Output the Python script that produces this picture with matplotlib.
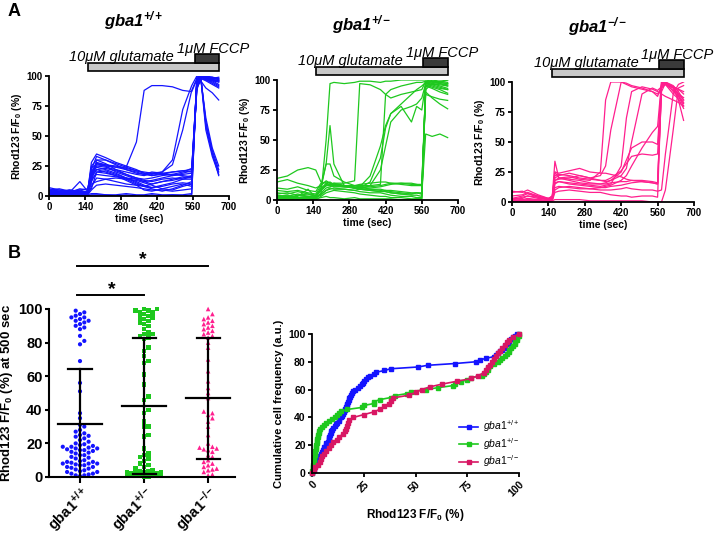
import numpy as np
import matplotlib
matplotlib.use('Agg')
import matplotlib.pyplot as plt

plt.rcParams['font.family'] = ['Liberation Sans', 'DejaVu Sans']
plt.rcParams['mathtext.fontset'] = 'custom'
plt.rcParams['mathtext.rm'] = 'Liberation Sans'
plt.rcParams['mathtext.it'] = 'Liberation Sans:italic'
plt.rcParams['mathtext.bf'] = 'Liberation Sans:bold'
try:
    plt.rcParams['mathtext.bfit'] = 'Liberation Sans:italic:bold'
except KeyError:
    pass

# ---------------- DATA ----------------
# Panel A: Rhod123 traces (time in s, F/F0 %)
TW = [0, 40, 80, 120, 150, 165, 185, 220, 260, 300, 340, 370, 400, 440, 480, 520, 555, 575, 590, 610, 635, 660]
wt_traces = [
    [2, 1, 3, 2, 3, 18, 27, 26, 24, 24, 45, 88, 92, 92, 91, 88, 87, 97, 100, 99, 98, 98],
    [1, 2, 1, 3, 2, 12, 30, 30, 27, 24, 21, 19, 18, 20, 26, 55, 88, 98, 100, 97, 96, 95],
    [3, 2, 4, 3, 1, 16, 25, 24, 22, 20, 18, 17, 19, 20, 30, 72, 92, 100, 99, 98, 97, 96],
    [2, 3, 2, 5, 3, 28, 35, 32, 28, 25, 22, 19, 17, 18, 20, 21, 22, 95, 100, 60, 38, 22],
    [4, 3, 5, 3, 2, 22, 33, 30, 26, 22, 19, 18, 20, 19, 17, 18, 19, 92, 99, 55, 33, 18],
    [1, 2, 1, 2, 1, 20, 28, 26, 25, 23, 21, 20, 19, 18, 18, 17, 16, 90, 98, 65, 40, 25],
    [3, 4, 3, 12, 4, 25, 30, 27, 22, 18, 15, 14, 15, 17, 18, 20, 23, 88, 100, 58, 35, 20],
    [5, 3, 4, 3, 3, 15, 22, 23, 21, 18, 15, 13, 12, 14, 15, 14, 14, 94, 99, 62, 36, 17],
    [2, 1, 2, 1, 2, 14, 18, 17, 16, 15, 14, 12, 10, 12, 13, 15, 17, 90, 96, 90, 86, 80],
    [6, 4, 5, 4, 3, 12, 20, 19, 17, 14, 10, 8, 10, 12, 14, 16, 15, 95, 100, 99, 97, 95],
    [0, 1, 0, 1, 0, 8, 15, 14, 12, 10, 9, 8, 7, 8, 10, 11, 10, 98, 99, 100, 98, 97],
    [1, 0, 1, 0, 1, 2, 2, 1, 1, 2, 1, 1, 2, 1, 1, 1, 2, 96, 100, 99, 99, 98],
    [0, 0, 1, 0, 0, 1, 1, 1, 0, 1, 0, 0, 1, 0, 1, 0, 1, 99, 100, 98, 97, 96],
    [4, 5, 3, 6, 5, 18, 24, 22, 19, 15, 12, 9, 7, 9, 11, 14, 16, 97, 98, 97, 95, 92],
    [2, 3, 4, 2, 3, 10, 12, 14, 15, 14, 13, 11, 9, 6, 5, 8, 10, 93, 99, 98, 96, 93],
    [3, 2, 2, 4, 2, 24, 26, 25, 24, 22, 20, 18, 17, 19, 20, 21, 20, 96, 100, 100, 99, 97],
    [7, 5, 4, 3, 4, 6, 20, 21, 18, 15, 11, 8, 6, 4, 6, 9, 12, 91, 98, 96, 93, 90],
    [1, 2, 3, 2, 3, 17, 22, 20, 17, 13, 9, 5, 4, 6, 8, 10, 8, 97, 100, 99, 98, 99],
    [2, 1, 2, 3, 1, 5, 9, 10, 9, 8, 7, 6, 5, 5, 4, 5, 6, 95, 99, 98, 97, 96],
    [5, 6, 4, 5, 6, 19, 27, 25, 20, 17, 14, 12, 13, 15, 17, 19, 21, 94, 100, 97, 94, 91],
]

TG = [0, 40, 80, 120, 150, 170, 190, 205, 220, 260, 300, 320, 360, 400, 420, 440, 480, 520, 540, 560, 575, 600, 630, 660]
het_traces = [
    [18, 20, 25, 27, 25, 15, 14, 13, 12, 12, 12, 11, 11, 12, 13, 14, 14, 14, 13, 13, 95, 97, 96, 95],
    [15, 17, 14, 12, 10, 12, 30, 30, 20, 15, 12, 13, 14, 15, 15, 14, 13, 12, 12, 12, 88, 86, 84, 83],
    [5, 6, 4, 5, 3, 10, 30, 62, 30, 12, 10, 9, 8, 7, 8, 7, 6, 5, 6, 5, 97, 99, 98, 100],
    [3, 2, 4, 3, 2, 5, 50, 97, 98, 97, 98, 99, 99, 98, 99, 99, 100, 100, 100, 100, 100, 99, 98, 97],
    [2, 3, 1, 2, 3, 8, 12, 13, 14, 14, 16, 97, 96, 92, 88, 85, 88, 90, 91, 92, 99, 97, 95, 93],
    [1, 2, 1, 2, 1, 6, 10, 11, 12, 11, 10, 11, 20, 45, 62, 72, 80, 88, 92, 95, 98, 96, 94, 92],
    [2, 1, 2, 1, 2, 4, 8, 9, 10, 9, 8, 9, 12, 25, 45, 65, 75, 78, 80, 85, 97, 99, 98, 97],
    [4, 3, 5, 3, 4, 8, 12, 12, 13, 12, 10, 10, 15, 35, 60, 72, 78, 65, 78, 75, 97, 95, 93, 92],
    [3, 4, 2, 3, 2, 10, 13, 12, 11, 11, 12, 12, 12, 13, 88, 92, 95, 97, 98, 98, 99, 98, 97, 96],
    [1, 0, 1, 0, 1, 2, 3, 2, 2, 1, 2, 1, 1, 1, 1, 1, 0, 0, 1, 1, 97, 100, 99, 98],
    [6, 5, 7, 5, 4, 9, 12, 13, 14, 12, 10, 9, 8, 7, 7, 6, 5, 5, 6, 5, 55, 53, 55, 52],
    [2, 3, 2, 3, 2, 9, 14, 15, 13, 12, 11, 10, 10, 11, 12, 13, 14, 13, 13, 12, 90, 85, 80, 76],
    [8, 7, 8, 6, 5, 12, 16, 14, 13, 12, 12, 11, 9, 8, 7, 6, 5, 4, 4, 3, 95, 93, 90, 88],
    [0, 1, 2, 1, 0, 3, 6, 7, 8, 7, 6, 5, 4, 3, 3, 2, 2, 1, 1, 1, 98, 96, 97, 95],
    [3, 2, 3, 9, 2, 5, 8, 10, 9, 9, 8, 7, 6, 6, 5, 4, 3, 3, 2, 2, 92, 97, 99, 100],
    [10, 9, 11, 8, 7, 14, 15, 14, 12, 11, 10, 9, 9, 9, 8, 8, 7, 6, 6, 6, 96, 94, 92, 89],
]

TK = [0, 40, 60, 100, 140, 155, 165, 180, 220, 260, 300, 340, 360, 380, 420, 440, 460, 500, 540, 560, 575, 590, 620, 640, 660]
ko_traces = [
    [2, 3, 5, 4, 2, 5, 25, 20, 21, 19, 18, 25, 85, 100, 100, 98, 96, 94, 92, 90, 95, 100, 92, 88, 82],
    [1, 2, 3, 2, 1, 3, 18, 19, 20, 22, 20, 22, 30, 60, 100, 99, 97, 95, 92, 88, 97, 99, 95, 90, 85],
    [0, 1, 2, 1, 0, 2, 15, 17, 16, 15, 14, 13, 14, 15, 30, 70, 92, 96, 94, 92, 90, 88, 85, 83, 80],
    [3, 2, 1, 2, 3, 4, 20, 22, 24, 22, 20, 18, 17, 18, 22, 28, 50, 90, 95, 93, 96, 98, 90, 86, 78],
    [1, 1, 2, 1, 1, 2, 10, 12, 13, 12, 11, 12, 13, 14, 18, 22, 30, 45, 58, 63, 100, 98, 96, 94, 90],
    [2, 4, 5, 3, 2, 3, 18, 20, 18, 16, 15, 15, 16, 18, 25, 35, 45, 50, 50, 48, 98, 100, 97, 92, 85],
    [9, 8, 10, 6, 3, 5, 22, 23, 22, 20, 19, 18, 18, 20, 26, 32, 38, 40, 39, 40, 100, 99, 96, 94, 92],
    [0, 1, 0, 1, 1, 2, 16, 17, 15, 14, 13, 12, 12, 13, 14, 15, 16, 17, 16, 15, 98, 100, 96, 90, 87],
    [1, 0, 1, 0, 1, 1, 2, 2, 2, 2, 1, 1, 1, 1, 1, 1, 1, 1, 0, 0, 0, 10, 60, 95, 97],
    [5, 6, 8, 5, 2, 3, 12, 13, 12, 11, 11, 10, 10, 10, 11, 12, 11, 10, 10, 9, 10, 40, 90, 98, 100],
    [3, 5, 7, 4, 2, 5, 34, 20, 19, 18, 16, 15, 15, 16, 17, 17, 18, 18, 17, 16, 95, 98, 93, 88, 80],
    [8, 9, 7, 5, 3, 4, 25, 24, 26, 28, 25, 24, 24, 23, 21, 19, 18, 17, 16, 15, 92, 99, 95, 85, 68],
    [0, 1, 1, 2, 0, 1, 8, 9, 10, 9, 8, 8, 7, 6, 5, 5, 4, 5, 5, 4, 97, 99, 95, 89, 83],
]

# treatments (s)
glut_start, glut_end = 152, 662
fccp_start, fccp_end = 566, 662

# Panel B: F/F0 at 500 s per cell
wt_vals = [0.5, 1, 1, 1.5, 2, 2, 3, 3, 3.5, 4, 4.5, 5,
           5.5, 6, 6, 7, 7, 7.5, 8, 8, 8, 8.5, 9, 9, 9.5, 10,
           11, 11.5, 12, 13, 13, 14, 14.5,
           15, 15.5, 16, 16, 16.5, 17, 17, 17.5, 18, 18, 18.5, 19, 19.5, 20,
           21, 22, 23, 24, 24.5, 25, 26, 27, 28, 30,
           31, 35, 38, 51, 56, 69, 79,
           81, 84, 88, 89, 90, 91, 92,
           93, 93, 94, 95, 95, 96, 97, 98, 99]
het_vals = [0.2, 0.3, 0.5, 0.6, 0.8, 1, 1, 1.2, 1.3, 1.5, 1.5, 1.8, 2, 2,
            2.2, 2.5, 2.6, 3, 3, 3.3, 3.5,
            4, 5, 6, 7, 8, 9.5,
            11, 12, 13, 14,
            17, 24, 25,
            30, 30, 33, 38, 40,
            46, 48, 55, 61,
            68, 69, 72, 75, 77,
            82, 83, 84, 85, 85, 86, 88, 90,
            91, 92, 93, 94, 95, 95, 96, 97, 98, 98, 99, 99, 100, 100]
ko_vals = [1, 1.5, 3, 4, 4.5, 5, 6, 7, 8, 9, 10,
           12, 13, 15, 16, 16.5, 17, 17.5, 18, 20, 25,
           30, 33, 35, 37, 38, 39, 47, 50, 53,
           57, 63, 70, 77, 80,
           83, 84, 85, 86, 87, 88, 89, 90, 91, 92,
           93, 94, 95, 97, 100]
# mean and SD
means = [31.5, 42.5, 47.0]
sds = [33.0, 40.5, 36.0]

group_labels = [r'$\mathbf{gba1}^{\mathbf{+/+}}$', r'$\mathbf{gba1}^{\mathbf{+/-}}$', r'$\mathbf{gba1}^{\mathbf{-/-}}$']
legend_labels = [r'$\mathit{gba1}^{+/+}$', r'$\mathit{gba1}^{+/-}$', r'$\mathit{gba1}^{-/-}$']
titles = [r'$\mathbfit{gba1}^{\mathbfit{+/+}}$', r'$\mathbfit{gba1}^{\mathbfit{+/-}}$', r'$\mathbfit{gba1}^{\mathbfit{-/-}}$']

c_blue = '#1414ff'
c_green = '#1ec81e'
c_pink = '#ff1f8e'
c_pink2 = '#d81763'

W, H = 718, 536
fig = plt.figure(figsize=(W / 100, H / 100), dpi=100)


def px_axes(x0, y0, x1, y1):
    return fig.add_axes([x0 / W, 1 - y1 / H, (x1 - x0) / W, (y1 - y0) / H])


def style(ax, lw=1.3, fs=7):
    for s in ['top', 'right']:
        ax.spines[s].set_visible(False)
    for s in ['left', 'bottom']:
        ax.spines[s].set_linewidth(lw)
    ax.tick_params(width=lw, length=3, labelsize=fs, pad=1.5)
    for lab in ax.get_xticklabels() + ax.get_yticklabels():
        lab.set_fontweight('bold')


def swarm_offsets(vals, d_px=4.3, max_px=20.0, px_per_x=64.0, px_per_y=1.68):
    """Greedy beeswarm layout with a capped width: offsets in category units."""
    placed = []
    offs = []
    nmax = int(max_px // d_px)
    cands = [0.0]
    for j in range(1, nmax + 1):
        cands += [j * d_px, -j * d_px]
    for v in vals:
        y = v * px_per_y
        best, best_d = 0.0, -1.0
        for off in cands:
            dmin = min([np.hypot(px - off, py - y) for (px, py) in placed] + [1e9])
            if dmin >= d_px * 0.98:
                best = off
                break
            if dmin > best_d:
                best, best_d = off, dmin
        placed.append((best, y))
        offs.append(best / px_per_x)
    return np.array(offs)


ylab_A = r'Rhod123 F/F$_\mathbf{0}$ (%)'
a_boxes = [(49, 76, 229, 196), (277, 80, 458, 200), (512, 82, 694, 202)]
a_data = [(TW, wt_traces, c_blue), (TG, het_traces, c_green), (TK, ko_traces, c_pink)]

for i, (box, (T, traces, col)) in enumerate(zip(a_boxes, a_data)):
    ax = px_axes(*box)
    for tr in traces:
        ax.plot(T, tr, color=col, lw=0.9, solid_joinstyle='round')
    ax.set_xlim(0, 700)
    ax.set_ylim(0, 100)
    ax.set_xticks([0, 140, 280, 420, 560, 700])
    ax.set_yticks([0, 25, 50, 75, 100])
    ax.set_ylabel(ylab_A, fontsize=7.5, fontweight='bold', labelpad=2)
    ax.set_xlabel('time (sec)', fontsize=7.5, fontweight='bold', labelpad=1)
    style(ax)
    # treatment bars (data units, outside axes)
    ax.add_patch(plt.Rectangle((glut_start, 104.5), glut_end - glut_start, 6.5,
                               facecolor='#c8c8c8', edgecolor='black', lw=1.2, clip_on=False))
    ax.add_patch(plt.Rectangle((fccp_start, 111), fccp_end - fccp_start, 7.5,
                               facecolor='#3a3a3a', edgecolor='black', lw=1.2, clip_on=False))
    ax.text(487, 112.5, '10\u03bcM glutamate', fontsize=10.5, style='italic', ha='right', va='baseline', clip_on=False)
    ax.text(497, 119, '1\u03bcM FCCP', fontsize=10.5, style='italic', ha='left', va='baseline', clip_on=False)
    ax.text(0.47, 1.465, titles[i], transform=ax.transAxes, fontsize=12, ha='center', va='center')

fig.text(8 / W, 1 - 12 / H, 'A', fontsize=13, fontweight='bold', ha='left', va='center')
fig.text(8 / W, 1 - 253 / H, 'B', fontsize=13, fontweight='bold', ha='left', va='center')

# ---------- Panel B1: scatter ----------
axs = px_axes(49, 309, 235, 477)
groups = [(wt_vals, c_blue, 'o', 9), (het_vals, c_green, 's', 10), (ko_vals, c_pink, '^', 11)]
for gi, (vals, col, mk, sz) in enumerate(groups):
    vals = np.sort(np.asarray(vals, dtype=float))
    xs = swarm_offsets(vals)
    axs.scatter(gi + 1 + xs, vals, s=sz, marker=mk, color=col, edgecolors='none', zorder=2, clip_on=False)
    m, sd = means[gi], sds[gi]
    lo, hi = max(m - sd, 0), m + sd
    axs.plot([gi + 1 - 0.34, gi + 1 + 0.34], [m, m], color='black', lw=1.6, zorder=3)
    axs.plot([gi + 1, gi + 1], [lo, hi], color='black', lw=1.6, zorder=3)
    axs.plot([gi + 1 - 0.18, gi + 1 + 0.18], [hi, hi], color='black', lw=1.6, zorder=3)
    if m - sd > 0:
        axs.plot([gi + 1 - 0.18, gi + 1 + 0.18], [lo, lo], color='black', lw=1.6, zorder=3)
axs.set_xlim(0.516, 3.42)
axs.set_ylim(0, 100)
axs.set_yticks([0, 20, 40, 60, 80, 100])
axs.set_xticks([1, 2, 3])
axs.set_xticklabels(group_labels, rotation=45, ha='right', rotation_mode='anchor', fontsize=7.8)
axs.set_ylabel(r'Rhod123 F/F$_\mathbf{0}$ (%) at 500 sec', fontsize=9.5, fontweight='bold', labelpad=2)
style(axs, lw=1.5, fs=10.5)
axs.tick_params(axis='x', length=4, pad=0.5)
# significance
axs.plot([0.95, 2.0], [108.2, 108.2], color='black', lw=1.4, clip_on=False)
axs.plot([0.95, 3.0], [125.6, 125.6], color='black', lw=1.4, clip_on=False)
axs.text(1.5, 111.5, '*', fontsize=14, fontweight='bold', ha='center', va='center', clip_on=False)
axs.text(1.98, 129.5, '*', fontsize=14, fontweight='bold', ha='center', va='center', clip_on=False)

# ---------- Panel B2: cumulative ----------
axc = px_axes(312, 334, 519, 473)
for vals, col, lab in [(wt_vals, c_blue, legend_labels[0]), (het_vals, c_green, legend_labels[1]), (ko_vals, c_pink2, legend_labels[2])]:
    v = np.sort(np.asarray(vals, dtype=float))
    cum = np.arange(1, len(v) + 1) / len(v) * 100
    xv = np.concatenate([[0], v])
    yv = np.concatenate([[0], cum])
    axc.plot(xv, yv, color=col, lw=1.2, marker='s', ms=2.6, mec=col, label=lab, clip_on=False)
axc.set_xlim(0, 100)
axc.set_ylim(0, 100)
axc.set_xticks([0, 25, 50, 75, 100])
axc.set_yticks([0, 20, 40, 60, 80, 100])
axc.set_xticklabels(['0', '25', '50', '75', '100'], rotation=45, ha='right', rotation_mode='anchor')
axc.set_ylabel('Cumulative cell frequency (a.u.)', fontsize=8, fontweight='bold', labelpad=3)
axc.set_xlabel(r'Rhod123 F/F$_\mathbf{0}$ (%)', fontsize=8.5, fontweight='bold', labelpad=6)
style(axc, lw=1.3, fs=7.5)
leg = axc.legend(loc='lower right', bbox_to_anchor=(1.05, -0.04), frameon=False, fontsize=7.5,
                 handlelength=1.8, handletextpad=0.5, labelspacing=0.15)

fig.savefig('out.png', dpi=100)
